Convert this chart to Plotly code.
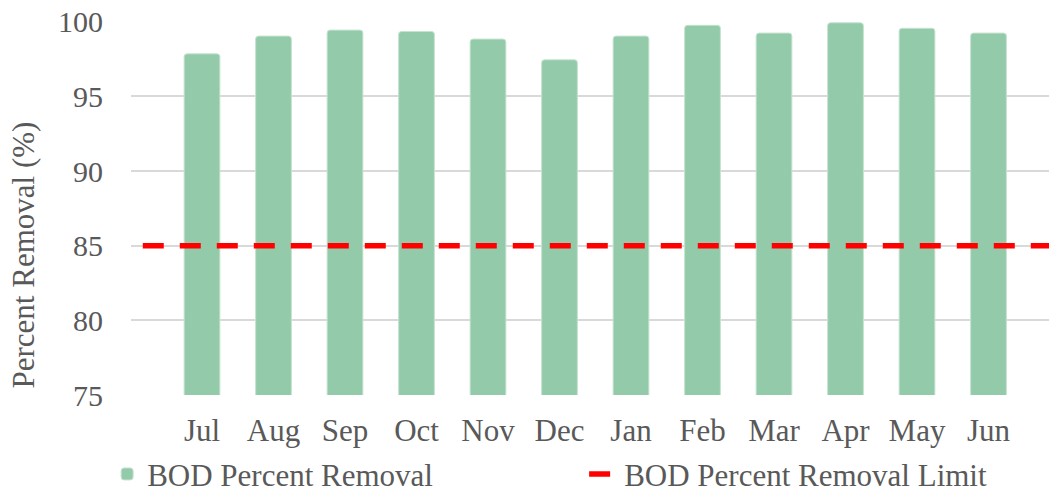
import plotly.graph_objects as go

months = ["Jul", "Aug", "Sep", "Oct", "Nov", "Dec", "Jan", "Feb", "Mar", "Apr", "May", "Jun"]
bod_removal = [97.85, 99.04, 99.44, 99.35, 98.84, 97.45, 99.04, 99.76, 99.24, 99.93, 99.56, 99.24]
removal_limit = 85
y_ticks = [75, 80, 85, 90, 95, 100]

FONT = "Liberation Serif, Times New Roman, serif"
GRAY = "#595959"
FS = 31

fig = go.Figure()
fig.add_trace(go.Bar(
    x=months, y=bod_removal, name="BOD Percent Removal",
    marker=dict(color="#93CAA9", line=dict(color="#C5E3D0", width=1), cornerradius=3),
    width=0.5,
))
fig.add_trace(go.Scatter(
    x=[0, 1], y=[removal_limit, removal_limit], mode="lines",
    name="BOD Percent Removal Limit", xaxis="x2",
    line=dict(color="#FF0000", width=5.5, dash="21px,16px"),
))

fig.add_annotation(text="Percent Removal (%)", textangle=-90, xref="paper", yref="paper",
                   x=0, y=0.373, xanchor="center", yanchor="middle", xshift=-108,
                   showarrow=False, font=dict(family=FONT, size=FS, color=GRAY))

fig.update_layout(
    width=1049, height=493,
    margin=dict(l=131, r=0, t=21, b=98, autoexpand=False),
    paper_bgcolor="white", plot_bgcolor="white",
    font=dict(family=FONT, size=FS, color=GRAY),
    showlegend=True,
    legend=dict(orientation="h", x=-0.026, xanchor="left", y=-0.212, yanchor="middle",
                bgcolor="rgba(0,0,0,0)",
                entrywidth=432, entrywidthmode="pixels",
                font=dict(family=FONT, size=FS, color=GRAY), traceorder="normal"),
    xaxis=dict(range=[-0.993, 11.846], showgrid=False, showline=False, ticks="",
               tickfont=dict(size=FS, color=GRAY), ticklabelstandoff=14,
               automargin=False, fixedrange=True),
    xaxis2=dict(overlaying="x", range=[-0.013, 1], visible=False),
    yaxis=dict(range=[75, 100.05], tickvals=y_ticks, showgrid=True, gridcolor="#D9D9D9",
               gridwidth=1.5, zeroline=False, showline=False, ticks="",
               ticklabeloverflow="allow",
               ticklabelstandoff=27, tickfont=dict(size=30, color=GRAY), automargin=False),
)

fig.write_html("out.html", config={"displayModeBar": False},
               post_script="document.body.style.margin='0';document.body.style.padding='0';")
